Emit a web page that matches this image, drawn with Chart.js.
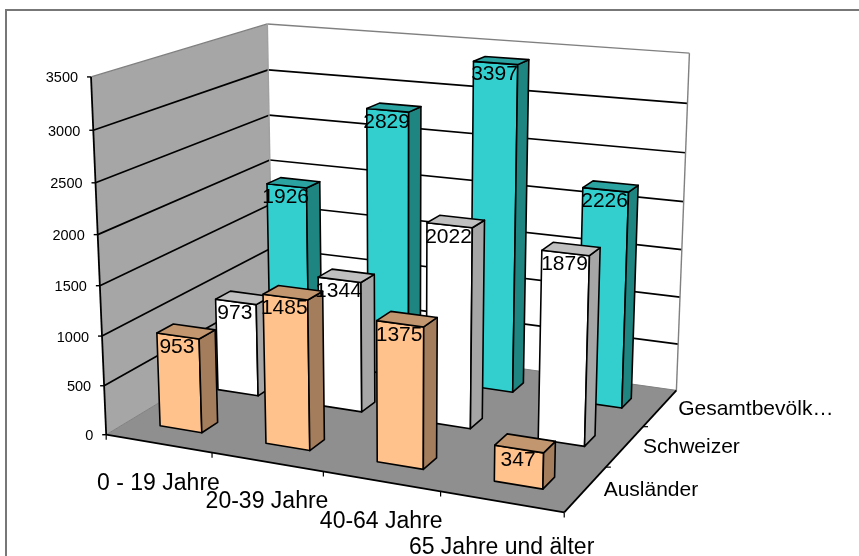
<!DOCTYPE html>
<html lang="de">
<head>
  <meta charset="UTF-8">
  <title>Bevölkerung nach Altersgruppen</title>
  <script src="https://cdn.jsdelivr.net/npm/chart.js"></script>
  <style>
    body { margin: 0; background: #fff; }
    #wrap { position: relative; width: 859px; height: 556px; overflow: hidden; }
    #frame { position: absolute; left: 5px; top: 9px; width: 900px; height: 600px; border: 2px solid #777; box-sizing: border-box; }
    #chart3d { position: absolute; left: 0; top: 0; }
  </style>
</head>
<body>
<div id="wrap">
  <div id="frame"></div>
  <canvas id="chart3d" width="859" height="556"></canvas>
</div>

<script>
  const categories = ['0 - 19 Jahre', '20-39 Jahre', '40-64 Jahre', '65 Jahre und älter'];
  const seriesNames = ['Ausländer', 'Schweizer', 'Gesamtbevölk…'];
  const auslaender = [953, 1485, 1375, 347];
  const schweizer = [973, 1344, 2022, 1879];
  const gesamt = [1926, 2829, 3397, 2226];

  const seriesColors = [
    { front: '#FFC28C', top: '#C2966E', side: '#A37D5C' },
    { front: '#FFFFFF', top: '#C0C0C0', side: '#A6A6A6' },
    { front: '#33CFCF', top: '#2AA3A1', side: '#1F8581' }
  ];

  // box corners on screen -> [u along categories, w along series, h along values]
  const boxCorners = [
    [0, 0, 0, 106.7, 434.7], [0, 0, 1, 90.7, 76.7], [0, 1, 1, 267.7, 24], [0, 1, 0, 272.5, 334],
    [1, 0, 0, 564, 512.7], [1, 1, 0, 676.7, 390], [1, 1, 1, 689.3, 53.3]
  ];
  const barDepth = 0.27; // share of one series row

  function solve(A, b) {
    const n = b.length;
    for (let i = 0; i < n; i++) {
      let m = i;
      for (let r = i + 1; r < n; r++) if (Math.abs(A[r][i]) > Math.abs(A[m][i])) m = r;
      [A[i], A[m]] = [A[m], A[i]];
      [b[i], b[m]] = [b[m], b[i]];
      for (let r = i + 1; r < n; r++) {
        const f = A[r][i] / A[i][i];
        for (let c = i; c < n; c++) A[r][c] -= f * A[i][c];
        b[r] -= f * b[i];
      }
    }
    const x = new Array(n).fill(0);
    for (let i = n - 1; i >= 0; i--) {
      let s = b[i];
      for (let c = i + 1; c < n; c++) s -= A[i][c] * x[c];
      x[i] = s / A[i][i];
    }
    return x;
  }

  function fitCamera() {
    const rows = [], rhs = [];
    boxCorners.forEach(([X, Y, Z, x, y]) => {
      rows.push([X, Y, Z, 1, 0, 0, 0, 0, -x * X, -x * Y, -x * Z]); rhs.push(x);
      rows.push([0, 0, 0, 0, X, Y, Z, 1, -y * X, -y * Y, -y * Z]); rhs.push(y);
    });
    const A = [], b = [];
    for (let i = 0; i < 11; i++) {
      A.push([]);
      for (let j = 0; j < 11; j++) A[i].push(rows.reduce((s, r) => s + r[i] * r[j], 0));
      b.push(rows.reduce((s, r, k) => s + r[i] * rhs[k], 0));
    }
    return solve(A, b);
  }
  const cam = fitCamera();

  function P(u, w, h) {
    const d = cam[8] * u + cam[9] * w + cam[10] * h + 1;
    return [(cam[0] * u + cam[1] * w + cam[2] * h + cam[3]) / d,
            (cam[4] * u + cam[5] * w + cam[6] * h + cam[7]) / d];
  }

  function poly(ctx, pts, fill, stroke, lw) {
    ctx.beginPath();
    pts.forEach((p, i) => i ? ctx.lineTo(p[0], p[1]) : ctx.moveTo(p[0], p[1]));
    ctx.closePath();
    if (fill) { ctx.fillStyle = fill; ctx.fill(); }
    if (stroke) { ctx.strokeStyle = stroke; ctx.lineWidth = lw; ctx.stroke(); }
  }

  function line(ctx, a, b, color, lw) {
    ctx.beginPath();
    ctx.moveTo(a[0], a[1]);
    ctx.lineTo(b[0], b[1]);
    ctx.strokeStyle = color;
    ctx.lineWidth = lw;
    ctx.stroke();
  }

  const box3d = {
    id: 'box3d',
    beforeDatasetsDraw(chart) {
      const ctx = chart.ctx, yS = chart.scales.y, area = chart.chartArea;
      ctx.save();
      ctx.lineJoin = 'round';
      poly(ctx, [P(0, 0, 0), P(0, 0, 1), P(0, 1, 1), P(0, 1, 0)], '#A6A6A6');
      poly(ctx, [P(0, 1, 0), P(0, 1, 1), P(1, 1, 1), P(1, 1, 0)], '#FFFFFF');
      poly(ctx, [P(0, 0, 0), P(0, 1, 0), P(1, 1, 0), P(1, 0, 0)], '#8F8F8F');

      // gridlines + wall edges
      yS.ticks.forEach(t => {
        const h = (yS.getPixelForValue(0) - yS.getPixelForValue(t.value)) / area.height;
        if (t.value > 0 && t.value < yS.max) {
          line(ctx, P(0, 0, h), P(0, 1, h), '#000', 1.7);
          line(ctx, P(0, 1, h), P(1, 1, h), '#000', 1.7);
        }
        const p = P(0, 0, h);
        line(ctx, [p[0] - 4, p[1]], p, '#000', 1.4);
        ctx.fillStyle = '#000';
        ctx.font = '14.5px "Liberation Sans"';
        ctx.textAlign = 'right';
        ctx.textBaseline = 'middle';
        ctx.fillText(String(t.value), p[0] - 13, p[1] + 1.5);
      });
      line(ctx, P(0, 0, 1), P(0, 1, 1), '#808080', 1.4);
      line(ctx, P(0, 1, 1), P(1, 1, 1), '#808080', 1.4);
      line(ctx, P(0, 1, 1), P(0, 1, 0), '#A0A0A0', 1.4);
      line(ctx, P(1, 1, 1), P(1, 1, 0), '#808080', 1.4);
      line(ctx, P(0, 0, 0), P(0, 1, 0), '#808080', 1);
      line(ctx, P(0, 1, 0), P(1, 1, 0), '#808080', 1);

      line(ctx, P(0, 0, 0), P(0, 0, 1), '#000', 1.8);
      line(ctx, P(0, 0, 0), P(1, 0, 0), '#000', 1.8);
      line(ctx, P(1, 0, 0), P(1, 1, 0), '#000', 1.8);

      // category ticks and names
      for (let i = 0; i <= categories.length; i++) {
        const p = P(i / categories.length, 0, 0);
        line(ctx, p, [p[0], p[1] + 5], '#000', 1.2);
      }
      ctx.font = '23px "Liberation Sans"';
      ctx.textAlign = 'center';
      ctx.textBaseline = 'middle';
      ctx.fillStyle = '#000';
      categories.forEach((c, i) => {
        const x = chart.scales.x.getPixelForValue(i);
        const p = P((x - area.left) / area.width, 0, 0);
        ctx.fillText(c, p[0], p[1] + (i === 3 ? 46 : 40));
      });

      // series ticks and names
      for (let s = 1; s < seriesNames.length; s++) {
        const p = P(1, s / seriesNames.length, 0);
        line(ctx, p, [p[0] + 5, p[1]], '#000', 1.2);
      }
      ctx.font = '21px "Liberation Sans"';
      ctx.textAlign = 'left';
      seriesNames.forEach((n, s) => {
        const p = P(1, (s + 0.5) / seriesNames.length, 0);
        ctx.fillText(n, p[0] + 18, p[1] + 1);
      });
      ctx.restore();
    },
    afterDatasetsDraw(chart) {
      const ctx = chart.ctx, area = chart.chartArea;
      const rows = seriesNames.length;
      ctx.save();
      ctx.lineJoin = 'round';
      const labels = [];
      for (let s = rows - 1; s >= 0; s--) {
        const w0 = (s + 0.5 - barDepth / 2) / rows, w1 = (s + 0.5 + barDepth / 2) / rows;
        chart.getDatasetMeta(s).data.forEach((el, i) => {
          const u0 = (el.x - el.width / 2 - area.left) / area.width;
          const u1 = (el.x + el.width / 2 - area.left) / area.width;
          const h = (el.base - el.y) / area.height;
          const c = seriesColors[s];
          poly(ctx, [P(u0, w0, 0), P(u0, w0, h), P(u1, w0, h), P(u1, w0, 0)], c.front, '#000', 1.6);
          poly(ctx, [P(u1, w0, 0), P(u1, w0, h), P(u1, w1, h), P(u1, w1, 0)], c.side, '#000', 1.6);
          poly(ctx, [P(u0, w0, h), P(u0, w1, h), P(u1, w1, h), P(u1, w0, h)], c.top, '#000', 1.6);
          const t = P((u0 + u1) / 2, w0, h);
          labels.push([chart.data.datasets[s].data[i], t[0] - 1, t[1] + 11.5]);
        });
      }
      ctx.fillStyle = '#000';
      ctx.font = '21px "Liberation Sans"';
      ctx.textAlign = 'center';
      ctx.textBaseline = 'middle';
      labels.forEach(l => ctx.fillText(l[0], l[1], l[2]));
      ctx.restore();
    }
  };

  new Chart(document.getElementById('chart3d'), {
    type: 'bar',
    data: {
      labels: categories,
      datasets: [
        { label: seriesNames[0], data: auslaender, backgroundColor: 'transparent', borderWidth: 0 },
        { label: seriesNames[1], data: schweizer, backgroundColor: 'transparent', borderWidth: 0 },
        { label: seriesNames[2], data: gesamt, backgroundColor: 'transparent', borderWidth: 0 }
      ]
    },
    options: {
      responsive: false,
      animation: false,
      layout: { padding: { left: 90, top: 77, right: 170, bottom: 121 } },
      datasets: { bar: { grouped: false, barPercentage: 0.4, categoryPercentage: 1 } },
      scales: {
        x: { display: false },
        y: { display: false, min: 0, max: 3500, ticks: { stepSize: 500 } }
      },
      plugins: { legend: { display: false }, tooltip: { enabled: false } }
    },
    plugins: [box3d]
  });
</script>
</body>
</html>
